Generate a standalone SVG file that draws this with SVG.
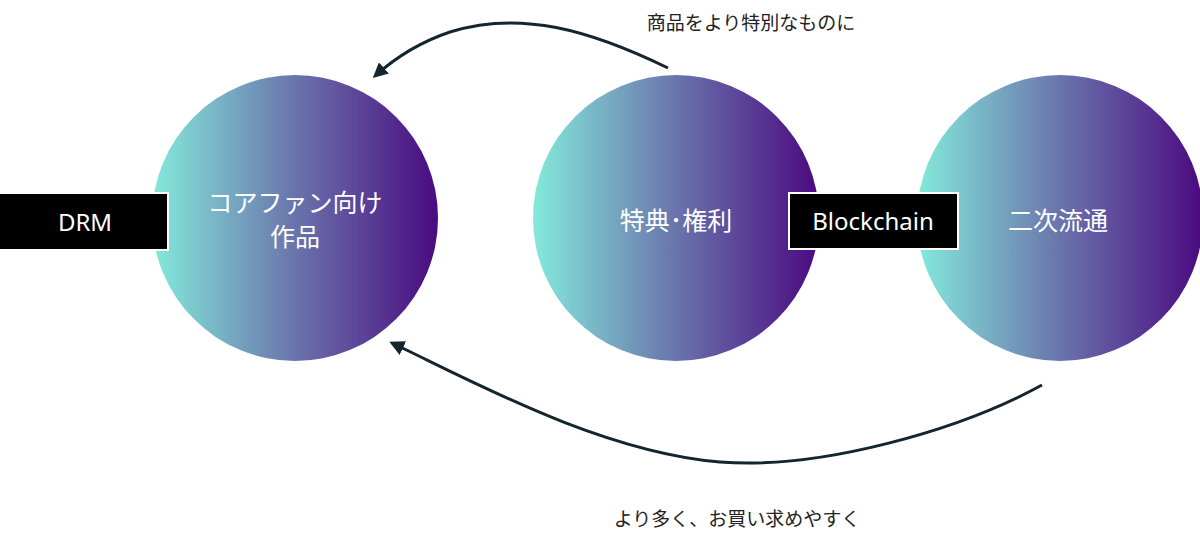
<svg xmlns="http://www.w3.org/2000/svg" width="1200" height="542" viewBox="0 0 1200 542">
<defs>
<linearGradient id="g" x1="0" y1="0" x2="1" y2="0">
<stop offset="0" stop-color="#84eadb"/>
<stop offset="0.5" stop-color="#6a74ac"/>
<stop offset="1" stop-color="#4a0a80"/>
</linearGradient>
<marker id="ah" viewBox="0 0 10 10" refX="8" refY="5" markerWidth="5" markerHeight="5" orient="auto-start-reverse">
<path d="M0,0 L10,5 L0,10 z" fill="#13262e"/>
</marker>
</defs>
<style>
text{font-family:"Noto Sans CJK JP","Noto Sans",sans-serif;}
.w{fill:#fff;font-size:25px;text-anchor:middle;}
.b{fill:#222;font-size:19px;text-anchor:middle;}
.box{fill:#000;stroke:#fff;stroke-width:2;}
.c{fill:none;stroke:#13262e;stroke-width:3;}
</style>
<g id="connectors">
<path class="c" d="M668,68 C590,30 520,10 450,32 C420,42 395,58 375,76" marker-end="url(#ah)"/>
<path class="c" d="M1042,385 C960,430 820,470 720,462 C600,452 470,380 392,343" marker-end="url(#ah)"/>
</g>
<g id="n1"><circle cx="295" cy="218" r="143" fill="url(#g)"/><text class="w" x="295" y="212">コアファン向け</text><text class="w" x="295" y="246">作品</text></g>
<g id="n2"><circle cx="676" cy="218" r="143" fill="url(#g)"/><text class="w" x="676" y="230">特典･権利</text></g>
<g id="n3"><circle cx="1060" cy="218" r="143" fill="url(#g)"/><text class="w" x="1058" y="230">二次流通</text></g>
<g id="drm"><rect class="box" x="-2" y="193" width="170" height="57"/><text class="w" x="85" y="231" style="font-family:'Noto Sans',sans-serif;font-size:24px">DRM</text></g>
<g id="bc"><rect class="box" x="789" y="193" width="169" height="56"/><text class="w" x="873" y="230" style="font-family:'Noto Sans',sans-serif;font-size:24px">Blockchain</text></g>
<text class="b" x="751" y="30">商品をより特別なものに</text>
<text class="b" x="737" y="526">より多く、お買い求めやすく</text>
</svg>
